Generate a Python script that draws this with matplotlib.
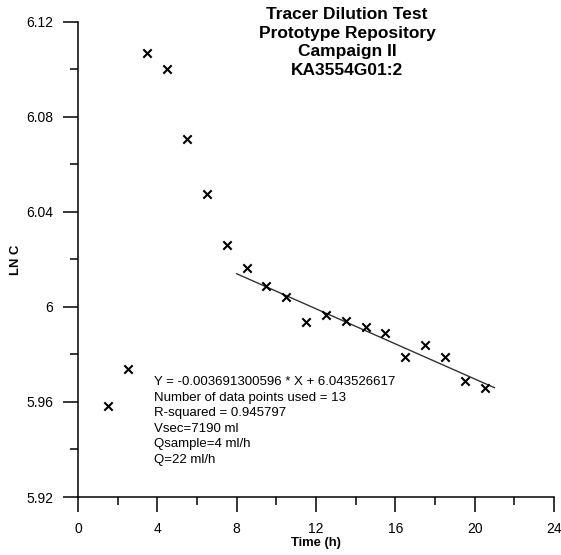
import numpy as np
import matplotlib
matplotlib.use("Agg")
from matplotlib import pyplot as plt
from matplotlib.ticker import MultipleLocator

plt.rcParams['font.family'] = ['Liberation Sans', 'DejaVu Sans']

# measured data (time in h, ln of concentration)
time_h = [1.5, 2.5, 3.5, 4.5, 5.5, 6.5, 7.5, 8.5, 9.5, 10.5, 11.5, 12.5,
          13.5, 14.5, 15.5, 16.5, 17.5, 18.5, 19.5, 20.5]
ln_c = [5.9585, 5.9738, 6.1071, 6.1003, 6.0707, 6.0474, 6.0260, 6.0164,
        6.0090, 6.0043, 5.9938, 5.9966, 5.9941, 5.9916, 5.9892, 5.9789,
        5.9840, 5.9789, 5.9690, 5.9660]

# regression reported on the chart
fit_slope = -0.003691300596
fit_intercept = 6.043526617
fit_range = [8, 21]

x_ticks = [0, 4, 8, 12, 16, 20, 24]
x_ticklabels = ['0', '4', '8', '12', '16', '20', '24']
y_ticks = [5.92, 5.96, 6.0, 6.04, 6.08, 6.12]
y_ticklabels = ['5.92', '5.96', '6', '6.04', '6.08', '6.12']

info_lines = [
    "Y = -0.003691300596 * X + 6.043526617",
    "Number of data points used = 13",
    "R-squared = 0.945797",
    "Vsec=7190 ml",
    "Qsample=4 ml/h",
    "Q=22 ml/h",
]
title_lines = ["Tracer Dilution Test", "Prototype Repository",
               "Campaign II", "KA3554G01:2"]

fig = plt.figure(figsize=(5.61, 5.55), dpi=100)
ax = fig.add_axes([0.139, 0.1045, 0.8485, 0.856])

ax.scatter(time_h, ln_c, marker='x', s=36, color='black', linewidths=1.5, zorder=3)

fx = np.array(fit_range)
ax.plot(fx, fit_slope * fx + fit_intercept, color='#333333', lw=1.0)

ax.set_xlim(0, 24)
ax.set_ylim(5.92, 6.12)
ax.set_xticks(x_ticks)
ax.set_xticklabels(x_ticklabels)
ax.set_yticks(y_ticks)
ax.set_yticklabels(y_ticklabels)
ax.xaxis.set_minor_locator(MultipleLocator(2))
ax.yaxis.set_minor_locator(MultipleLocator(0.02))

for side in ['top', 'right']:
    ax.spines[side].set_visible(False)
for side in ['left', 'bottom']:
    ax.spines[side].set_linewidth(1.1)
    ax.spines[side].set_color('black')

ax.tick_params(which='major', direction='out', length=11, width=1.1, labelsize=10, pad=7)
ax.tick_params(which='minor', direction='out', length=5.5, width=1.1)

ax.set_xlabel('Time (h)', fontsize=9.4, fontweight='bold')
ax.set_ylabel('LN C', fontsize=9.4, fontweight='bold')
ax.xaxis.set_label_coords(0.5, -0.085)
ax.yaxis.set_label_coords(-0.118, 0.5)

fig.text(154 / 561, 1 - 376 / 555, "\n".join(info_lines), fontsize=9.5,
         va='top', ha='left', linespacing=1.39)
fig.text(347 / 561, 1 - 7 / 555, "\n".join(title_lines), fontsize=12.5,
         fontweight='bold', ha='center', va='top', linespacing=1.3)

fig.savefig("out.png", dpi=100)
